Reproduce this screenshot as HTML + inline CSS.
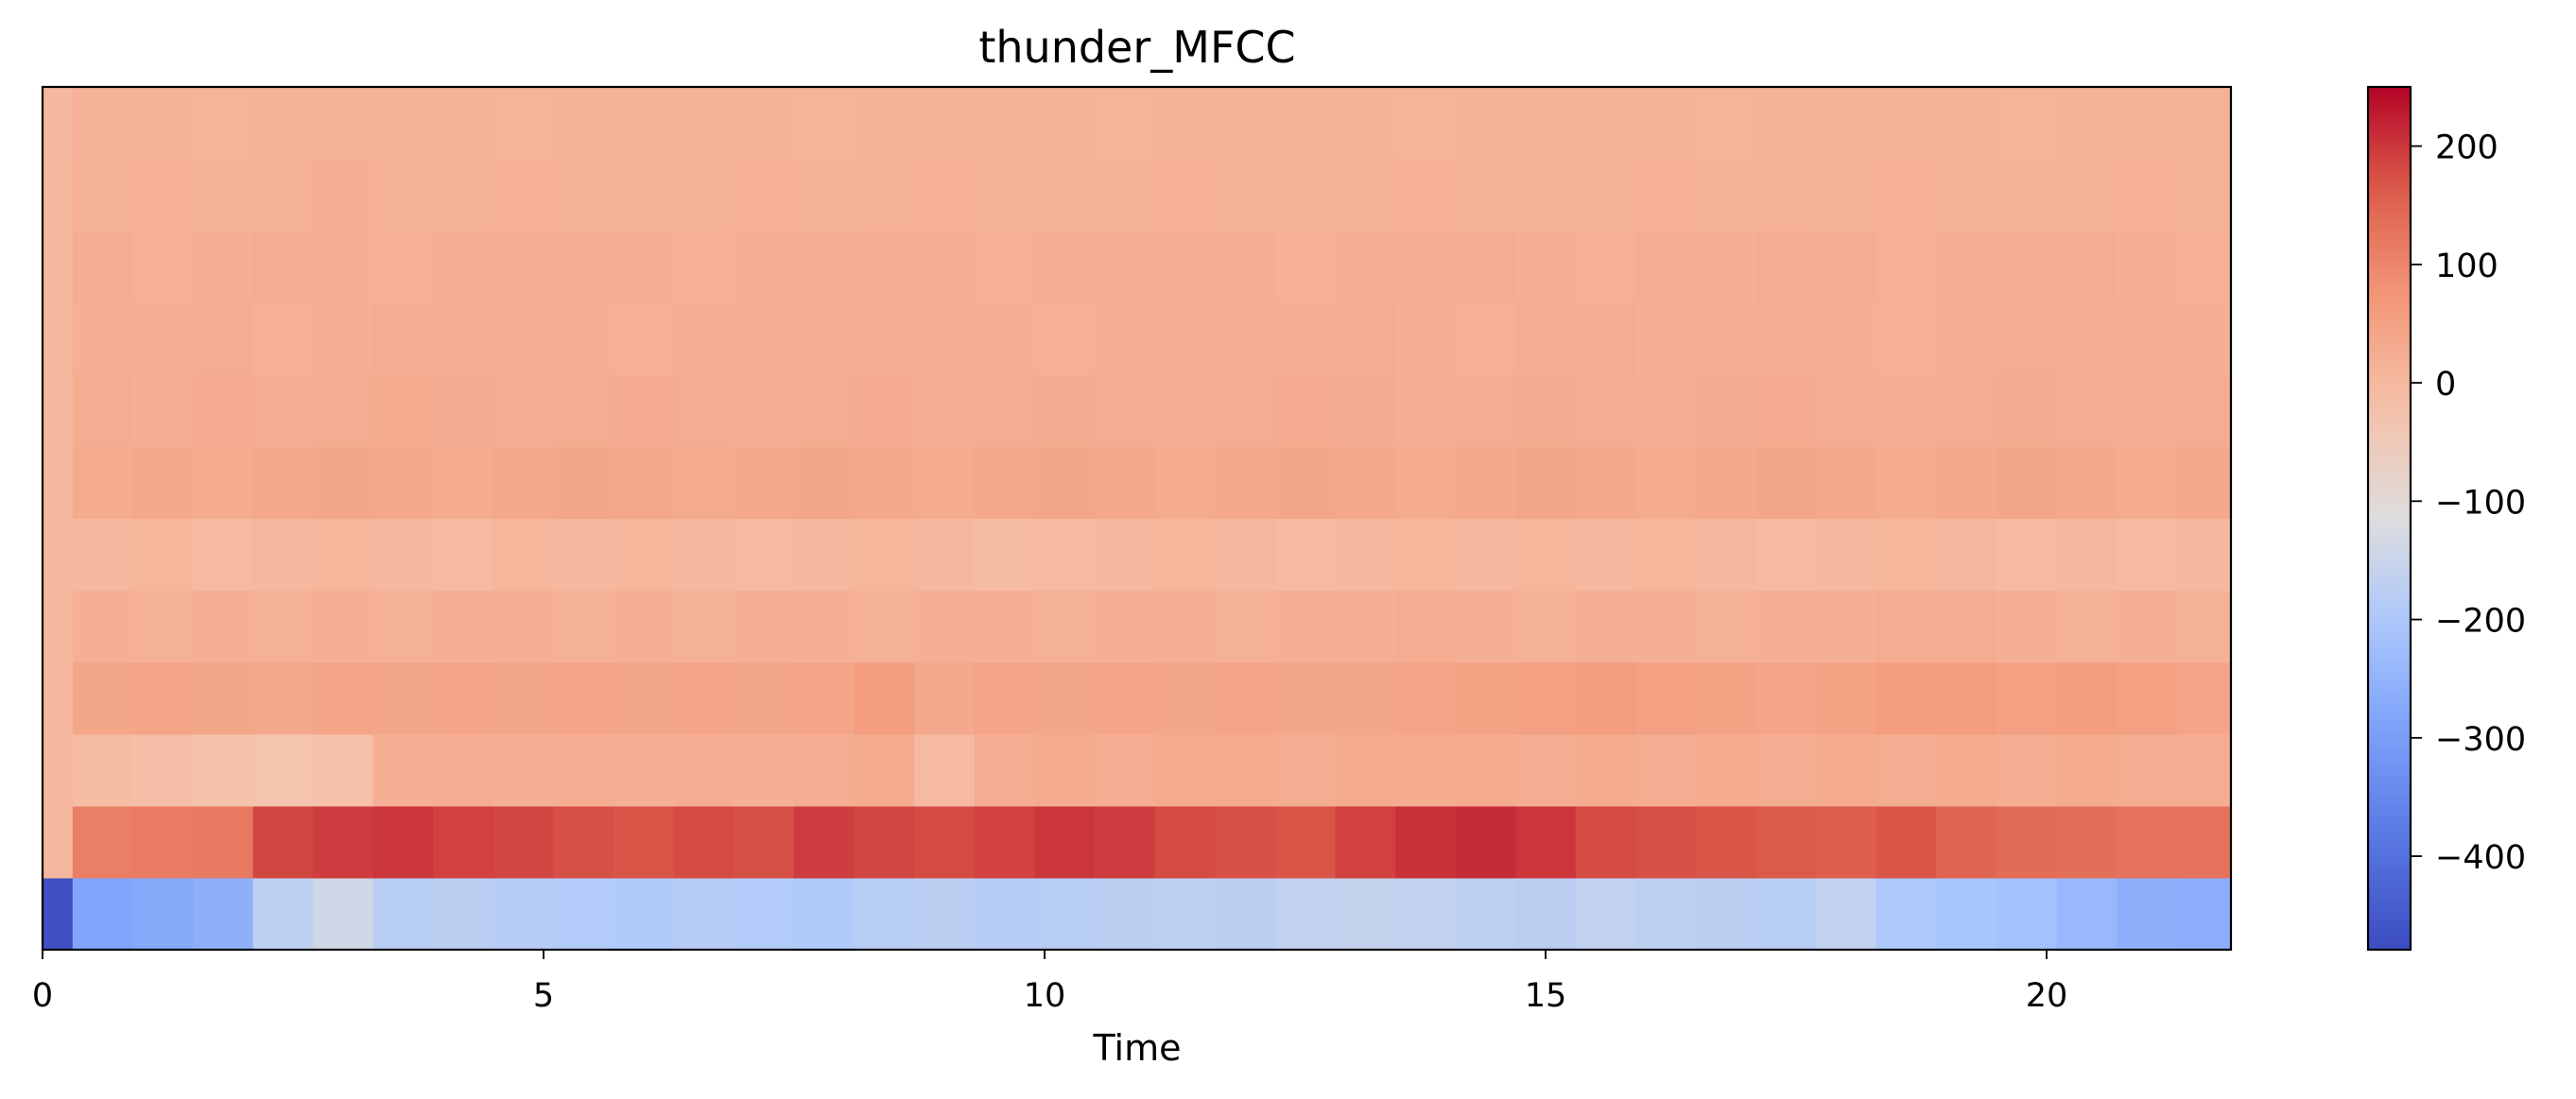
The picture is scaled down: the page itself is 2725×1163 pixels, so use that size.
<!DOCTYPE html>
<html><head><meta charset="utf-8"><style>
html,body{margin:0;padding:0;background:#fff}
svg{display:block;font-family:"DejaVu Sans","Liberation Sans",sans-serif}
</style></head><body>
<svg id="chart" width="2725" height="1163" viewBox="0 0 2725 1163" xmlns="http://www.w3.org/2000/svg">
<text x="1203" y="66" font-size="46" text-anchor="middle">thunder_MFCC</text>
<g id="heat"></g>
<rect x="45" y="92" width="2315" height="913" fill="none" stroke="#000" stroke-width="2.2"/>
<g id="xaxis"></g>
<text x="1203" y="1122" font-size="38" text-anchor="middle">Time</text>
<defs><linearGradient id="cbg" x1="0" y1="1" x2="0" y2="0"></linearGradient></defs>
<rect x="2505" y="92" width="45" height="913" fill="url(#cbg)" stroke="#000" stroke-width="2.2"/>
<g id="cbaxis"></g>
</svg>
<script>
const colStart = [0,0.3,0.9,1.5,2.1,2.7,3.3,3.9,4.5,5.1,5.7,6.3,6.9,7.5,8.1,8.7,9.3,9.9,10.5,11.1,11.7,12.3,12.9,13.5,14.1,14.7,15.3,15.9,16.5,17.1,17.7,18.3,18.9,19.5,20.1,20.7,21.3];
const row0 = [-470,-285,-275,-260,-170,-140,-180,-175,-185,-190,-195,-185,-190,-195,-180,-175,-185,-180,-175,-170,-175,-165,-160,-165,-170,-175,-165,-170,-175,-180,-165,-200,-210,-220,-240,-260,-265];
const row1 = [0,110,115,120,185,195,200,190,185,175,170,180,175,195,185,180,190,200,195,180,175,170,190,205,210,200,180,175,170,165,160,170,150,140,135,130,130];
const row2 = [0,-10,-15,-25,-30,-20,20,25,20,25,20,25,20,25,30,-5,25,30,25,30,30,25,30,30,30,25,30,25,30,25,30,25,30,25,30,25,25];
const row3 = [0,40,45,40,35,45,40,45,40,45,40,45,40,45,60,35,45,40,45,40,45,40,40,45,50,55,60,55,50,45,50,60,60,55,60,55,45];
const row4 = [0,20,15,20,15,20,15,20,20,15,20,15,20,20,15,20,20,15,20,20,15,20,20,25,20,15,20,20,15,20,20,25,25,20,15,20,15];
const row5 = [0,0,5,-5,0,5,0,-5,5,0,5,0,-5,0,5,0,-10,-5,0,5,0,-5,0,5,0,5,0,5,0,-5,0,5,0,-5,0,-5,0];
const row6 = [0,30,35,30,35,40,35,30,35,40,38,32,35,40,35,30,36,40,35,30,35,40,35,30,35,40,35,30,35,40,35,30,35,40,35,30,35];
const row7 = [0,25,20,28,22,25,30,26,22,25,28,24,20,25,28,22,25,27,24,22,25,28,26,22,24,27,25,22,26,28,24,22,25,27,24,22,25];
const row8 = [0,20,22,25,18,20,24,22,25,20,18,22,25,20,22,24,20,18,22,25,20,22,24,20,18,22,25,20,22,24,20,18,22,25,20,22,20];
const row9 = [0,22,18,20,24,20,18,22,20,24,22,18,20,22,24,20,18,22,20,24,22,18,20,22,24,20,18,22,20,24,22,18,20,22,24,20,18];
const row10 = [0,15,18,12,15,20,16,14,18,15,12,16,18,15,14,18,16,12,15,18,16,14,15,18,16,14,15,18,16,14,15,18,16,14,15,18,16];
const row11 = [0,12,15,10,14,12,15,13,10,14,12,15,13,10,14,12,15,13,10,14,12,15,13,10,14,12,15,13,10,14,12,15,13,10,14,12,15];
const rows = [row0,row1,row2,row3,row4,row5,row6,row7,row8,row9,row10,row11];
const xTicks = [0,5,10,15,20];
const cbTicks = [200,100,0,-100,-200,-300,-400];
const vmin = -479, vmax = 250, tmax = 21.84;

const L=45,R=2360,T=92,B=1005;
const xs = t => L + (t/tmax)*(R-L);
const rowH = (B-T)/rows.length;
const ys = i => B - (i+1)*rowH;
const cbY = v => B - (v-vmin)/(vmax-vmin)*(B-T);

const cm = [[0,[59,76,192]],[0.125,[88,118,226]],[0.25,[124,159,249]],[0.375,[170,199,253]],[0.5,[221,221,221]],[0.625,[245,194,170]],[0.75,[244,154,123]],[0.875,[222,96,77]],[1,[180,4,38]]];
function cmap(f){f=Math.max(0,Math.min(1,f));for(let i=1;i<cm.length;i++){if(f<=cm[i][0]){const a=cm[i-1],b=cm[i];const u=(f-a[0])/(b[0]-a[0]);const c=a[1].map((v,k)=>Math.round(v+(b[1][k]-v)*u));return `rgb(${c[0]},${c[1]},${c[2]})`;}}return 'rgb(180,4,38)';}
const NS='http://www.w3.org/2000/svg';
const heat=document.getElementById('heat');
rows.forEach((row,i)=>{row.forEach((v,j)=>{
  const x0=xs(colStart[j]), x1=xs(j+1<colStart.length?colStart[j+1]:tmax);
  const r=document.createElementNS(NS,'rect');
  
  
  r.setAttribute('x',x0);r.setAttribute('y',ys(i));
  r.setAttribute('width',x1-x0+0.6);r.setAttribute('height',rowH+0.6);
  r.setAttribute('fill',cmap((v-vmin)/(vmax-vmin)));
  heat.appendChild(r);
});});
const xa=document.getElementById('xaxis');
xTicks.forEach(t=>{
  const l=document.createElementNS(NS,'line');
  
  
  l.setAttribute('x1',xs(t));l.setAttribute('x2',xs(t));l.setAttribute('y1',B);l.setAttribute('y2',B+10);l.setAttribute('stroke','#000');l.setAttribute('stroke-width','1.8');
  xa.appendChild(l);
  const tx=document.createElementNS(NS,'text');
  
  
  tx.setAttribute('x',xs(t));tx.setAttribute('y',B+60);tx.setAttribute('font-size','35');tx.setAttribute('text-anchor','middle');
  tx.textContent=t;xa.appendChild(tx);
});
const g=document.getElementById('cbg');
for(let k=0;k<=20;k++){const s=document.createElementNS(NS,'stop');s.setAttribute('offset',k/20);s.setAttribute('stop-color',cmap(k/20));g.appendChild(s);}
const ca=document.getElementById('cbaxis');
cbTicks.forEach(v=>{
  const l=document.createElementNS(NS,'line');
  
  
  l.setAttribute('x1',2551);l.setAttribute('x2',2562);l.setAttribute('y1',cbY(v));l.setAttribute('y2',cbY(v));l.setAttribute('stroke','#000');l.setAttribute('stroke-width','1.8');
  ca.appendChild(l);
  const tx=document.createElementNS(NS,'text');
  
  
  tx.setAttribute('x',2576);tx.setAttribute('y',cbY(v)+13);tx.setAttribute('font-size','35');
  tx.textContent=v<0?'\u2212'+Math.abs(v):String(v);ca.appendChild(tx);
});
</script>
</body></html>
